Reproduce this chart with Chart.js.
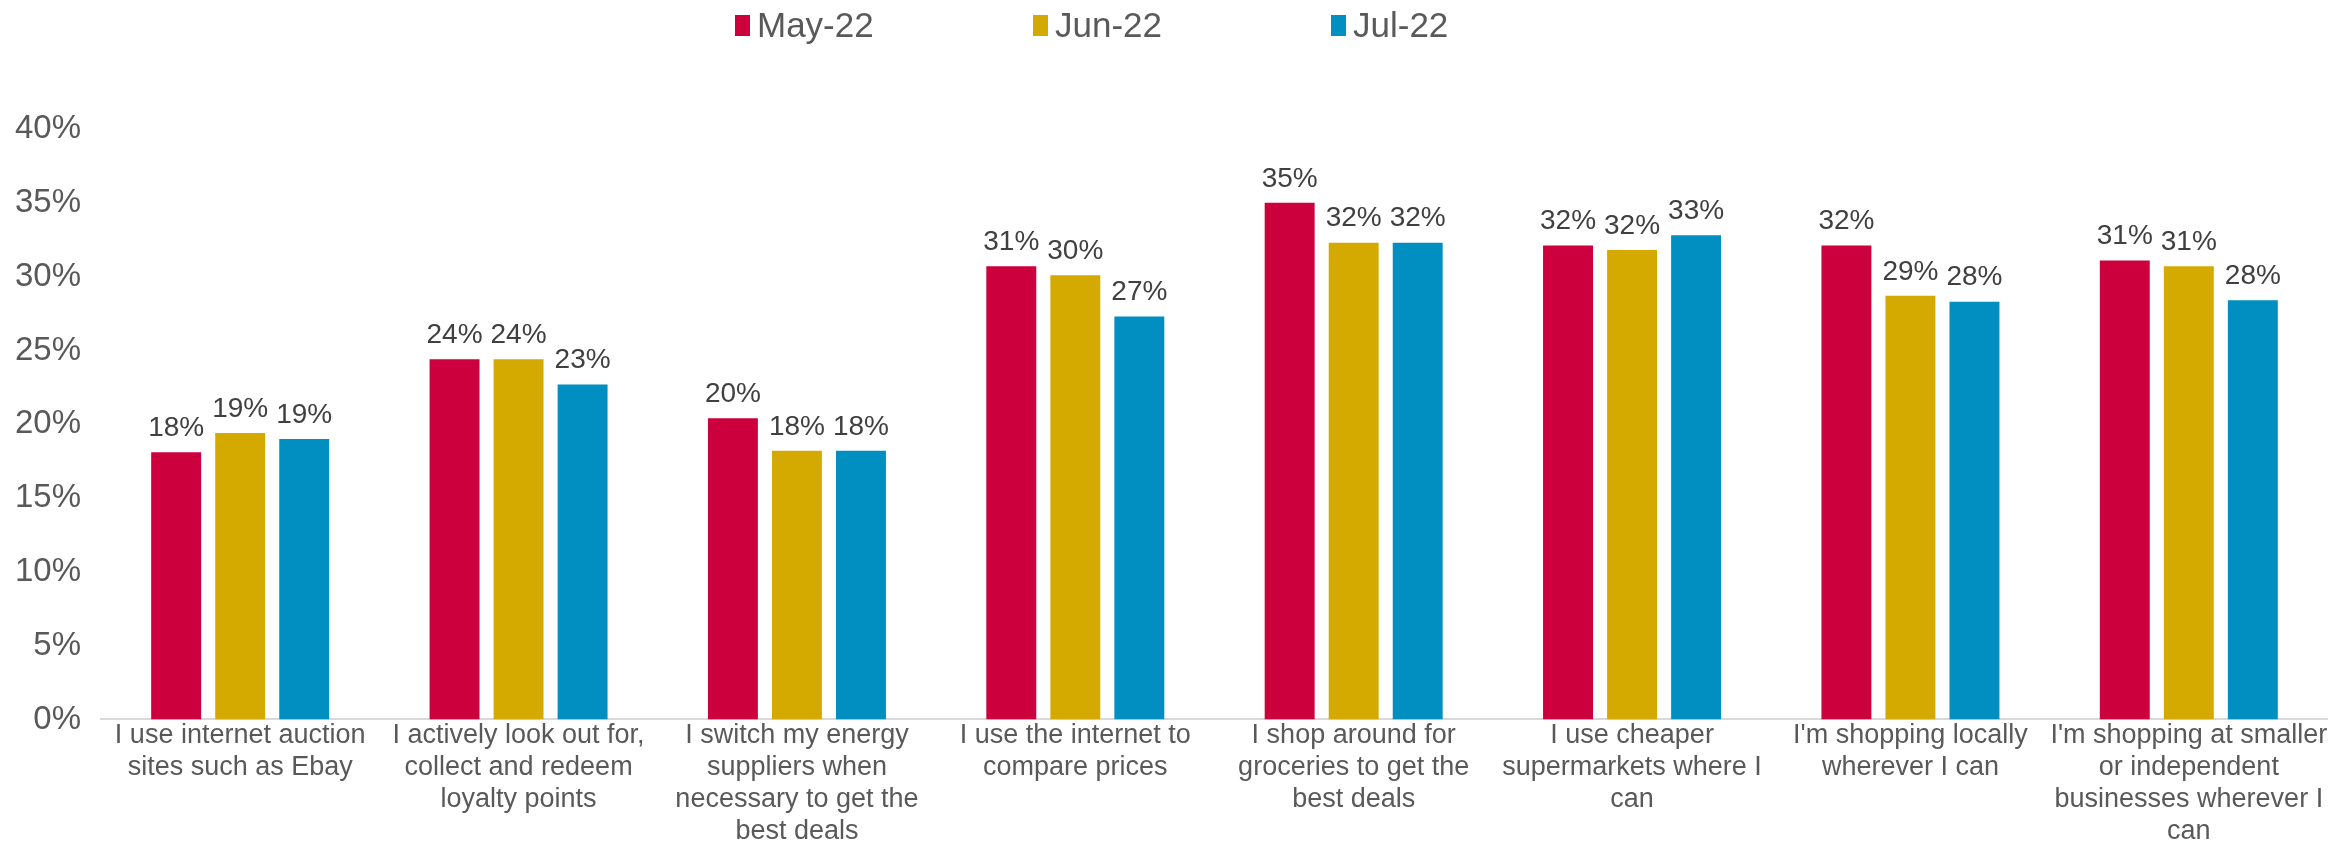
<!DOCTYPE html>
<html lang="en">
<head>
  <meta charset="UTF-8">
  <title>Money-saving behaviours, May-Jul 2022</title>
  <script src="https://cdn.jsdelivr.net/npm/chart.js"></script>
  <style>
    body { margin: 0; background: #fff; }
    #wrap { position: relative; width: 2328px; height: 848px; }
    #legend { position: absolute; top: 5px; left: 735px; display: flex; }
    .item { width: 298px; display: flex; align-items: center; font-family: "Liberation Sans Narrow", "Liberation Sans", sans-serif; font-size: 35px; color: #595959; }
    .box { width: 15px; height: 21px; margin-right: 7px; }
  </style>
</head>
<body>
  <div id="wrap">
    <canvas id="chart" width="2328" height="848"></canvas>
    <div id="legend"></div>
  </div>

  <script>
    // statements, each split into the lines shown under the axis
    const categories = [
      ["I use internet auction", "sites such as Ebay"],
      ["I actively look out for,", "collect and redeem", "loyalty points"],
      ["I switch my energy", "suppliers when", "necessary to get the", "best deals"],
      ["I use the internet to", "compare prices"],
      ["I shop around for", "groceries to get the", "best deals"],
      ["I use cheaper", "supermarkets where I", "can"],
      ["I'm shopping locally", "wherever I can"],
      ["I'm shopping at smaller", "or independent", "businesses wherever I", "can"]
    ];
    const seriesNames = ["May-22", "Jun-22", "Jul-22"];
    const may22 = [18.1, 24.4, 20.4, 30.7, 35.0, 32.1, 32.1, 31.1];
    const jun22 = [19.4, 24.4, 18.2, 30.1, 32.3, 31.8, 28.7, 30.7];
    const jul22 = [19.0, 22.7, 18.2, 27.3, 32.3, 32.8, 28.3, 28.4];
    const colors = ["#CC003C", "#D5AA00", "#008FC0"];

    const narrow = '"Liberation Sans Narrow", "Liberation Sans", sans-serif';

    // value labels above each bar
    const barLabels = {
      id: "barLabels",
      afterDatasetsDraw(chart) {
        const ctx = chart.ctx;
        ctx.save();
        ctx.font = "28px " + narrow;
        ctx.fillStyle = "#404040";
        ctx.textAlign = "center";
        ctx.textBaseline = "bottom";
        chart.data.datasets.forEach((ds, i) => {
          chart.getDatasetMeta(i).data.forEach((bar, j) => {
            ctx.fillText(Math.round(ds.data[j]) + "%", bar.x, bar.y - 10);
          });
        });
        ctx.restore();
      }
    };

    const chart = new Chart(document.getElementById("chart"), {
      type: "bar",
      data: {
        labels: categories,
        datasets: [may22, jun22, jul22].map((d, i) => ({
          label: seriesNames[i],
          data: d,
          backgroundColor: colors[i],
          categoryPercentage: 0.69,
          barPercentage: 0.78
        }))
      },
      options: {
        responsive: false,
        animation: false,
        layout: { padding: { top: 129, right: 0, left: 0, bottom: 0 } },
        plugins: { legend: { display: false }, tooltip: { enabled: false } },
        scales: {
          x: {
            grid: { display: false, drawTicks: false },
            border: { color: "#d9d9d9", width: 2 },
            ticks: {
              color: "#595959",
              font: { family: narrow, size: 27, lineHeight: 1.19 },
              padding: 0,
              maxRotation: 0,
              autoSkip: false
            }
          },
          y: {
            min: 0,
            max: 40,
            grid: { display: false },
            border: { display: false },
            ticks: {
              stepSize: 5,
              padding: 12,
              color: "#595959",
              font: { family: '"Liberation Sans", sans-serif', size: 33 },
              callback: v => v + "%"
            },
            afterFit: s => { s.width = 101; }
          }
        }
      },
      plugins: [barLabels]
    });

    // legend built from the same series
    const legend = document.getElementById("legend");
    seriesNames.forEach((name, i) => {
      legend.innerHTML += `<div class="item"><span class="box" style="background:${colors[i]}"></span>${name}</div>`;
    });
  </script>
</body>
</html>
